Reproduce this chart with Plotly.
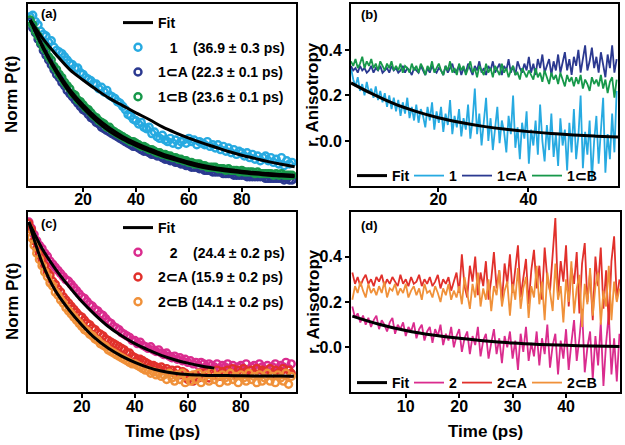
import plotly.graph_objects as go

# ---------------- Panel (a): Norm P(t) for 1, 1⊂A, 1⊂B ----------------
t_a = list(range(0, 100))
p_1 = [1.02, 1.03, 0.99, 0.97, 0.93, 0.91, 0.90, 0.86, 0.87, 0.83,
       0.81, 0.80, 0.79, 0.77, 0.75, 0.73, 0.72, 0.70, 0.70, 0.67,
       0.66, 0.64, 0.63, 0.62, 0.60, 0.60, 0.57, 0.58, 0.55, 0.56,
       0.53, 0.52, 0.51, 0.49, 0.48, 0.46, 0.44, 0.41, 0.40, 0.38,
       0.37, 0.35, 0.36, 0.33, 0.32, 0.33, 0.29, 0.30, 0.27, 0.26,
       0.28, 0.25, 0.24, 0.26, 0.23, 0.25, 0.22, 0.24, 0.25, 0.23,
       0.26, 0.24, 0.25, 0.22, 0.24, 0.23, 0.22, 0.24, 0.21, 0.22,
       0.20, 0.22, 0.19, 0.21, 0.18, 0.20, 0.17, 0.19, 0.16, 0.18,
       0.17, 0.15, 0.17, 0.14, 0.16, 0.13, 0.15, 0.12, 0.14, 0.15,
       0.12, 0.14, 0.11, 0.13, 0.10, 0.14, 0.09, 0.12, 0.10, 0.11]
p_1A = [0.99, 0.95, 0.92, 0.88, 0.85, 0.81, 0.78, 0.75, 0.72, 0.69,
        0.66, 0.64, 0.61, 0.59, 0.56, 0.54, 0.52, 0.50, 0.48, 0.46,
        0.44, 0.43, 0.41, 0.39, 0.38, 0.36, 0.35, 0.33, 0.32, 0.31,
        0.30, 0.29, 0.28, 0.27, 0.26, 0.25, 0.24, 0.23, 0.22, 0.21,
        0.21, 0.20, 0.19, 0.18, 0.18, 0.17, 0.16, 0.16, 0.15, 0.15,
        0.14, 0.13, 0.13, 0.12, 0.12, 0.11, 0.11, 0.10, 0.10, 0.09,
        0.09, 0.08, 0.08, 0.08, 0.07, 0.07, 0.06, 0.06, 0.06, 0.05,
        0.05, 0.05, 0.05, 0.04, 0.04, 0.04, 0.04, 0.03, 0.03, 0.03,
        0.03, 0.03, 0.02, 0.02, 0.02, 0.02, 0.02, 0.02, 0.02, 0.01,
        0.01, 0.01, 0.01, 0.01, 0.01, 0.01, 0.00, 0.01, 0.00, 0.00]
p_1B = [1.00, 0.97, 0.93, 0.90, 0.86, 0.83, 0.81, 0.77, 0.75, 0.71,
        0.69, 0.66, 0.64, 0.61, 0.59, 0.57, 0.54, 0.53, 0.50, 0.49,
        0.47, 0.45, 0.44, 0.42, 0.40, 0.39, 0.37, 0.36, 0.35, 0.33,
        0.33, 0.31, 0.30, 0.29, 0.28, 0.27, 0.26, 0.25, 0.24, 0.24,
        0.23, 0.22, 0.21, 0.21, 0.20, 0.19, 0.19, 0.18, 0.17, 0.17,
        0.16, 0.16, 0.15, 0.15, 0.14, 0.14, 0.13, 0.13, 0.12, 0.12,
        0.11, 0.11, 0.10, 0.10, 0.10, 0.09, 0.09, 0.08, 0.08, 0.08,
        0.08, 0.07, 0.07, 0.07, 0.06, 0.07, 0.06, 0.06, 0.06, 0.05,
        0.06, 0.05, 0.05, 0.05, 0.05, 0.04, 0.05, 0.04, 0.04, 0.04,
        0.04, 0.04, 0.03, 0.04, 0.03, 0.04, 0.03, 0.03, 0.03, 0.03]
fit_t_a = [0, 5, 10, 15, 20, 25, 30, 35, 40, 45, 50, 55, 60, 65, 70, 75, 80, 85, 90, 95, 100]
fit_1 = [1.0, 0.88, 0.78, 0.69, 0.625, 0.565, 0.51, 0.465, 0.42, 0.378, 0.332,
         0.295, 0.262, 0.232, 0.205, 0.178, 0.155, 0.135, 0.115, 0.098, 0.083]
fit_1A = [1.0, 0.82, 0.67, 0.545, 0.45, 0.37, 0.305, 0.255, 0.215, 0.18, 0.15,
          0.125, 0.10, 0.08, 0.065, 0.055, 0.045, 0.037, 0.03, 0.025, 0.02]
fit_1B = [1.0, 0.83, 0.685, 0.565, 0.47, 0.39, 0.325, 0.272, 0.23, 0.195, 0.163,
          0.137, 0.113, 0.093, 0.077, 0.065, 0.055, 0.047, 0.04, 0.035, 0.03]

# ---------------- Panel (b): anisotropy for 1, 1⊂A, 1⊂B ----------------
t_b = [0.6 + 0.5 * i for i in range(119)]
r_1 = [0.32, 0.27, 0.24, 0.28, 0.22, 0.25, 0.20, 0.26, 0.21, 0.23,
       0.19, 0.24, 0.18, 0.22, 0.17, 0.21, 0.15, 0.20, 0.14, 0.19,
       0.13, 0.18, 0.11, 0.17, 0.12, 0.19, 0.10, 0.15, 0.09, 0.16,
       0.08, 0.14, 0.11, 0.06, 0.15, 0.09, 0.17, 0.05, 0.13, 0.08,
       0.15, 0.04, 0.12, 0.07, 0.18, 0.03, 0.11, 0.06, 0.14, 0.02,
       0.10, 0.05, 0.16, 0.01, 0.09, 0.23, 0.03, 0.12, -0.02, 0.08,
       0.19, 0.00, 0.10, -0.04, 0.07, 0.15, -0.01, 0.09, 0.04, -0.05,
       0.11, 0.03, 0.20, -0.03, 0.06, -0.08, 0.08, 0.01, 0.13, -0.10,
       0.05, -0.02, 0.09, -0.06, 0.16, 0.00, -0.09, 0.07, -0.04, 0.12,
       -0.07, 0.03, -0.11, 0.10, -0.02, 0.05, -0.13, 0.08, -0.05, 0.14,
       -0.08, 0.02, 0.20, -0.12, 0.04, -0.06, 0.09, -0.17, 0.00, 0.11,
       -0.10, 0.06, 0.19, -0.14, 0.03, -0.08, 0.12, -0.05, 0.22]
r_1A = [0.33, 0.31, 0.32, 0.30, 0.33, 0.31, 0.32, 0.30, 0.31, 0.33,
        0.30, 0.32, 0.31, 0.33, 0.30, 0.31, 0.32, 0.30, 0.33, 0.31,
        0.32, 0.30, 0.31, 0.33, 0.30, 0.32, 0.31, 0.29, 0.32, 0.31,
        0.30, 0.33, 0.31, 0.29, 0.32, 0.30, 0.33, 0.31, 0.30, 0.32,
        0.31, 0.29, 0.33, 0.30, 0.32, 0.34, 0.30, 0.31, 0.33, 0.29,
        0.32, 0.30, 0.34, 0.31, 0.29, 0.33, 0.31, 0.35, 0.30, 0.32,
        0.29, 0.33, 0.31, 0.35, 0.30, 0.32, 0.34, 0.29, 0.33, 0.31,
        0.36, 0.30, 0.33, 0.29, 0.35, 0.32, 0.30, 0.34, 0.31, 0.37,
        0.30, 0.34, 0.29, 0.36, 0.32, 0.38, 0.30, 0.33, 0.36, 0.29,
        0.35, 0.31, 0.38, 0.30, 0.34, 0.39, 0.31, 0.36, 0.29, 0.37,
        0.33, 0.40, 0.30, 0.36, 0.42, 0.31, 0.35, 0.41, 0.32, 0.37,
        0.30, 0.39, 0.34, 0.28, 0.38, 0.32, 0.42, 0.30, 0.36]
r_1B = [0.35, 0.33, 0.36, 0.32, 0.34, 0.37, 0.32, 0.35, 0.33, 0.36,
        0.32, 0.34, 0.31, 0.35, 0.33, 0.31, 0.34, 0.32, 0.35, 0.31,
        0.33, 0.31, 0.34, 0.30, 0.33, 0.32, 0.30, 0.34, 0.31, 0.33,
        0.30, 0.34, 0.32, 0.29, 0.33, 0.31, 0.35, 0.30, 0.32, 0.34,
        0.31, 0.29, 0.33, 0.31, 0.35, 0.30, 0.32, 0.29, 0.34, 0.31,
        0.33, 0.29, 0.32, 0.35, 0.30, 0.32, 0.28, 0.33, 0.31, 0.29,
        0.34, 0.30, 0.32, 0.28, 0.33, 0.31, 0.29, 0.34, 0.30, 0.32,
        0.28, 0.31, 0.33, 0.29, 0.30, 0.27, 0.32, 0.30, 0.28, 0.31,
        0.29, 0.27, 0.32, 0.28, 0.30, 0.26, 0.31, 0.28, 0.25, 0.30,
        0.27, 0.29, 0.25, 0.30, 0.27, 0.24, 0.29, 0.26, 0.28, 0.24,
        0.28, 0.25, 0.29, 0.23, 0.27, 0.25, 0.22, 0.28, 0.25, 0.27,
        0.24, 0.29, 0.23, 0.27, 0.21, 0.26, 0.28, 0.19, 0.27]
fit_t_b = [0.6, 5, 10, 15, 20, 25, 30, 35, 40, 45, 50, 55, 60]
fit_r1 = [0.255, 0.21, 0.165, 0.13, 0.102, 0.081, 0.064, 0.051, 0.041, 0.033, 0.026, 0.021, 0.017]

# ---------------- Panel (c): Norm P(t) for 2, 2⊂A, 2⊂B ----------------
t_c = list(range(0, 100))
p_2 = [1.00, 0.96, 0.92, 0.88, 0.85, 0.83, 0.80, 0.78, 0.75, 0.73,
       0.71, 0.69, 0.67, 0.65, 0.63, 0.62, 0.60, 0.58, 0.56, 0.54,
       0.52, 0.51, 0.49, 0.47, 0.46, 0.44, 0.43, 0.41, 0.40, 0.38,
       0.36, 0.35, 0.33, 0.32, 0.31, 0.29, 0.28, 0.27, 0.26, 0.24,
       0.24, 0.22, 0.23, 0.21, 0.20, 0.19, 0.20, 0.18, 0.17, 0.18,
       0.16, 0.15, 0.16, 0.14, 0.13, 0.14, 0.12, 0.13, 0.11, 0.12,
       0.10, 0.11, 0.09, 0.10, 0.08, 0.10, 0.09, 0.07, 0.09, 0.08,
       0.07, 0.09, 0.06, 0.08, 0.07, 0.09, 0.06, 0.08, 0.05, 0.07,
       0.08, 0.06, 0.09, 0.05, 0.07, 0.08, 0.06, 0.09, 0.07, 0.05,
       0.08, 0.06, 0.07, 0.09, 0.05, 0.08, 0.07, 0.10, 0.06, 0.09]
p_2A = [0.99, 0.95, 0.88, 0.83, 0.79, 0.76, 0.72, 0.68, 0.66, 0.62,
        0.60, 0.57, 0.55, 0.52, 0.50, 0.48, 0.46, 0.44, 0.42, 0.40,
        0.39, 0.37, 0.35, 0.34, 0.32, 0.31, 0.29, 0.28, 0.27, 0.25,
        0.24, 0.23, 0.22, 0.21, 0.20, 0.19, 0.18, 0.16, 0.16, 0.14,
        0.13, 0.12, 0.12, 0.11, 0.10, 0.09, 0.08, 0.08, 0.07, 0.06,
        0.07, 0.05, 0.06, 0.04, 0.05, 0.03, 0.05, 0.02, 0.04, 0.03,
        -0.01, 0.01, -0.02, 0.02, 0.00, 0.03, 0.01, 0.04, 0.00, 0.03,
        0.02, 0.05, 0.01, 0.04, 0.02, 0.05, 0.03, 0.06, 0.02, 0.05,
        0.03, 0.06, 0.04, 0.02, 0.05, 0.03, 0.06, 0.02, 0.05, 0.04,
        0.03, 0.06, 0.02, 0.05, 0.03, 0.04, 0.06, 0.02, 0.05, 0.03]
p_2B = [0.96, 0.90, 0.85, 0.80, 0.76, 0.72, 0.68, 0.65, 0.61, 0.59,
        0.55, 0.53, 0.50, 0.48, 0.45, 0.43, 0.41, 0.39, 0.37, 0.35,
        0.33, 0.31, 0.30, 0.28, 0.27, 0.25, 0.24, 0.22, 0.21, 0.20,
        0.18, 0.17, 0.16, 0.15, 0.14, 0.13, 0.12, 0.11, 0.10, 0.09,
        0.09, 0.08, 0.07, 0.06, 0.05, 0.05, 0.03, 0.04, 0.02, 0.03,
        0.01, 0.02, -0.01, 0.03, 0.00, -0.02, 0.02, -0.01, 0.03, -0.03,
        0.01, -0.02, 0.02, -0.01, 0.03, -0.03, 0.00, 0.02, -0.02, 0.04,
        -0.01, 0.01, -0.03, 0.02, 0.00, -0.02, 0.03, -0.01, 0.01, -0.03,
        0.02, 0.00, -0.02, 0.03, -0.01, 0.01, -0.03, 0.02, -0.02, 0.00,
        0.03, -0.02, 0.01, -0.03, 0.02, 0.00, -0.02, 0.03, -0.04, 0.01]
fit_t_c2 = [0, 5, 10, 15, 20, 25, 30, 35, 40, 45, 50, 55, 60, 65, 70]
fit_2 = [1.0, 0.83, 0.70, 0.59, 0.49, 0.405, 0.33, 0.27, 0.22, 0.18, 0.145, 0.117, 0.095, 0.077, 0.063]
fit_t_c = [0, 5, 10, 15, 20, 25, 30, 35, 40, 45, 50, 55, 60, 65, 70, 75, 80, 85, 90, 95, 100]
fit_2B = [1.0, 0.74, 0.56, 0.44, 0.34, 0.255, 0.19, 0.14, 0.10, 0.068, 0.045,
          0.03, 0.022, 0.018, 0.016, 0.015, 0.014, 0.013, 0.012, 0.012, 0.011]

# ---------------- Panel (d): anisotropy for 2, 2⊂A, 2⊂B ----------------
t_d = [0.5 * i for i in range(101)]
r_2 = [0.18, 0.13, 0.15, 0.11, 0.14, 0.10, 0.13, 0.09, 0.12, 0.14,
       0.08, 0.12, 0.10, 0.07, 0.11, 0.13, 0.06, 0.10, 0.08, 0.11,
       0.05, 0.09, 0.07, 0.11, 0.04, 0.08, 0.10, 0.03, 0.07, 0.09,
       0.02, 0.08, 0.05, 0.10, 0.01, 0.06, 0.03, 0.09, 0.00, 0.05,
       0.08, -0.02, 0.04, 0.07, -0.03, 0.05, 0.01, 0.09, -0.04, 0.03,
       0.06, -0.05, 0.02, 0.08, -0.03, 0.04, -0.07, 0.05, 0.00, 0.07,
       -0.05, 0.03, -0.10, 0.06, -0.02, 0.09, -0.06, 0.02, -0.04, 0.07,
       -0.08, 0.04, -0.03, 0.10, -0.09, 0.01, 0.06, -0.12, 0.03, -0.05,
       0.08, -0.10, 0.02, 0.12, -0.06, 0.04, 0.17, -0.11, 0.00, 0.07,
       -0.14, 0.05, -0.08, 0.11, -0.17, 0.02, 0.15, -0.12, 0.04, -0.15,
       0.06]
r_2A = [0.33, 0.28, 0.31, 0.27, 0.30, 0.32, 0.28, 0.30, 0.27, 0.31,
        0.29, 0.32, 0.27, 0.30, 0.28, 0.31, 0.29, 0.27, 0.32, 0.28,
        0.30, 0.27, 0.31, 0.28, 0.29, 0.32, 0.27, 0.30, 0.28, 0.31,
        0.27, 0.29, 0.32, 0.26, 0.30, 0.28, 0.31, 0.25, 0.29, 0.33,
        0.24, 0.41, 0.27, 0.22, 0.36, 0.29, 0.40, 0.23, 0.33, 0.27,
        0.38, 0.21, 0.30, 0.42, 0.26, 0.34, 0.20, 0.37, 0.28, 0.41,
        0.24, 0.35, 0.45, 0.22, 0.31, 0.39, 0.19, 0.34, 0.43, 0.26,
        0.36, 0.21, 0.44, 0.30, 0.25, 0.40, 0.57, 0.22, 0.38, 0.29,
        0.45, 0.18, 0.35, 0.28, 0.42, 0.15, 0.37, 0.46, 0.20, 0.33,
        0.12, 0.40, 0.27, 0.44, 0.17, 0.34, 0.10, 0.38, 0.49, 0.21,
        0.30]
r_2B = [0.21, 0.27, 0.24, 0.29, 0.25, 0.22, 0.28, 0.24, 0.26, 0.23,
        0.27, 0.24, 0.29, 0.22, 0.26, 0.25, 0.28, 0.23, 0.26, 0.24,
        0.28, 0.22, 0.25, 0.27, 0.23, 0.26, 0.21, 0.28, 0.24, 0.25,
        0.22, 0.27, 0.24, 0.20, 0.26, 0.23, 0.28, 0.21, 0.25, 0.22,
        0.27, 0.19, 0.31, 0.24, 0.17, 0.28, 0.22, 0.33, 0.18, 0.26,
        0.21, 0.30, 0.16, 0.27, 0.23, 0.34, 0.18, 0.25, 0.29, 0.14,
        0.28, 0.21, 0.35, 0.17, 0.26, 0.31, 0.13, 0.27, 0.22, 0.36,
        0.19, 0.29, 0.12, 0.33, 0.24, 0.16, 0.37, 0.21, 0.27, 0.11,
        0.30, 0.20, 0.38, 0.15, 0.26, 0.32, 0.09, 0.28, 0.19, 0.35,
        0.14, 0.27, 0.33, 0.10, 0.25, 0.18, 0.36, 0.12, 0.29, 0.20,
        0.26]
fit_t_d = [0, 5, 10, 15, 20, 25, 30, 35, 40, 45, 50]
fit_r2 = [0.138, 0.102, 0.074, 0.054, 0.04, 0.028, 0.019, 0.013, 0.009, 0.006, 0.004]

# ---------------- labels ----------------
lab_a = ["Fit", "\u00a0\u00a0\u00a01\u00a0\u00a0\u00a0\u00a0(36.9 ± 0.3 ps)",
         "1⊂A (22.3 ± 0.1 ps)", "1⊂B (23.6 ± 0.1 ps)"]
lab_c = ["Fit", "\u00a0\u00a0\u00a02\u00a0\u00a0\u00a0\u00a0(24.4 ± 0.2 ps)",
         "2⊂A (15.9 ± 0.2 ps)", "2⊂B (14.1 ± 0.2 ps)"]
lab_b = ["Fit", "1", "1⊂A", "1⊂B"]
lab_d = ["Fit", "2", "2⊂A", "2⊂B"]

C_CYAN = "#27AAE1"
C_NAVY = "#2B3990"
C_GREEN = "#17984A"
C_MAG = "#DA2C8E"
C_RED = "#E1302B"
C_ORANGE = "#F0913A"
FONT = "Liberation Sans"

fig = go.Figure()

def sc(x, y, color, name, xa, ya, leg, rank, grp):
    return go.Scatter(x=x, y=y, mode="markers", name=name, xaxis=xa, yaxis=ya,
                      legend=leg, legendrank=rank, legendgroup=grp,
                      marker=dict(symbol="circle-open", size=7, color=color,
                                  line=dict(width=2.4, color=color)))

def ln(x, y, color, name, xa, ya, leg, rank, width=1.8, show=True, shape="linear", lw=None, grp=None):
    return go.Scatter(x=x, y=y, mode="lines", name=name, xaxis=xa, yaxis=ya,
                      legend=leg, legendrank=rank, showlegend=show, legendwidth=lw,
                      legendgroup=grp,
                      line=dict(color=color, width=width, shape=shape))

# (a)
fig.add_trace(sc(t_a, p_1, C_CYAN, lab_a[1], "x", "y", "legend", 2, "a1"))
fig.add_trace(sc(t_a, p_1A, C_NAVY, lab_a[2], "x", "y", "legend", 3, "a2"))
fig.add_trace(sc(t_a, p_1B, C_GREEN, lab_a[3], "x", "y", "legend", 4, "a3"))
fig.add_trace(ln(fit_t_a, fit_1, "black", lab_a[0], "x", "y", "legend", 1, 3, True, "spline", grp="a0"))
fig.add_trace(ln(fit_t_a, fit_1A, "black", lab_a[0], "x", "y", "legend", 1, 3, False, "spline", grp="a0"))
fig.add_trace(ln(fit_t_a, fit_1B, "black", lab_a[0], "x", "y", "legend", 1, 3, False, "spline", grp="a0"))

# (b)
fig.add_trace(ln(t_b, r_1, C_CYAN, lab_b[1], "x2", "y2", "legend2", 2, lw=3))
fig.add_trace(ln(t_b, r_1A, C_NAVY, lab_b[2], "x2", "y2", "legend2", 3, lw=25))
fig.add_trace(ln(t_b, r_1B, C_GREEN, lab_b[3], "x2", "y2", "legend2", 4, lw=30))
fig.add_trace(ln(fit_t_b, fit_r1, "black", lab_b[0], "x2", "y2", "legend2", 1, 3, True, "spline", lw=12))

# (c)
fig.add_trace(sc(t_c, p_2, C_MAG, lab_c[1], "x3", "y3", "legend3", 2, "c1"))
fig.add_trace(sc(t_c, p_2A, C_RED, lab_c[2], "x3", "y3", "legend3", 3, "c2"))
fig.add_trace(sc(t_c, p_2B, C_ORANGE, lab_c[3], "x3", "y3", "legend3", 4, "c3"))
fig.add_trace(ln(fit_t_c2, fit_2, "black", lab_c[0], "x3", "y3", "legend3", 1, 3, True, "spline", grp="c0"))
fig.add_trace(ln(fit_t_c, fit_2B, "black", lab_c[0], "x3", "y3", "legend3", 1, 3, False, "spline", grp="c0"))

# (d)
fig.add_trace(ln(t_d, r_2, C_MAG, lab_d[1], "x4", "y4", "legend4", 2, lw=3))
fig.add_trace(ln(t_d, r_2A, C_RED, lab_d[2], "x4", "y4", "legend4", 3, lw=25))
fig.add_trace(ln(t_d, r_2B, C_ORANGE, lab_d[3], "x4", "y4", "legend4", 4, lw=30))
fig.add_trace(ln(fit_t_d, fit_r2, "black", lab_d[0], "x4", "y4", "legend4", 1, 3, True, "spline", lw=12))

W, H = 625, 445
def dx(a, b):
    return [a / W, b / W]
def dy(top, bot):
    return [1 - bot / H, 1 - top / H]

tickfont = dict(family=FONT, size=16, color="black", weight="bold")
common = dict(showline=True, linecolor="black", linewidth=2, mirror=True,
              showgrid=False, zeroline=False, ticks="outside", ticklen=4,
              tickwidth=2, tickcolor="black", tickfont=tickfont)
noy = dict(showline=True, linecolor="black", linewidth=2, mirror=True,
           showgrid=False, zeroline=False, showticklabels=False, ticks="")

leg_font = dict(family=FONT, size=14, color="black", weight="bold")

fig.update_layout(
    width=W, height=H, margin=dict(l=0, r=0, t=0, b=0),
    paper_bgcolor="white", plot_bgcolor="white",
    font=dict(family=FONT, color="black"),
    xaxis=dict(domain=dx(28, 296), anchor="y", range=[-0.8, 100.5], tickvals=[20, 40, 60, 80],
               ticklabelstandoff=-6, **common),
    yaxis=dict(domain=dy(4, 186), anchor="x", range=[-0.0375, 1.1], **noy),
    xaxis2=dict(domain=dx(351, 618), anchor="y2", range=[0.6, 59.9], tickvals=[20, 40],
                ticklabelstandoff=-6, **common),
    yaxis2=dict(domain=dy(4, 186), anchor="x2", range=[-0.198, 0.602], tickvals=[0, 0.2, 0.4],
                tickformat=".1f", **common),
    xaxis3=dict(domain=dx(28, 296), anchor="y3", range=[-0.3, 100.8], tickvals=[20, 40, 60, 80],
                ticklabelstandoff=-5, **common),
    yaxis3=dict(domain=dy(212, 392), anchor="x3", range=[-0.09, 1.064], **noy),
    xaxis4=dict(domain=dx(351, 620), anchor="y4", range=[-0.25, 50.1], tickvals=[10, 20, 30, 40],
                ticklabelstandoff=-5, **common),
    yaxis4=dict(domain=dy(212, 392), anchor="x4", range=[-0.197, 0.597], tickvals=[0, 0.2, 0.4],
                tickformat=".1f", **common),
    legend=dict(x=118 / W, y=1 - 7 / H, xanchor="left", yanchor="top", bgcolor="rgba(0,0,0,0)",
                font=leg_font, tracegroupgap=3.5),
    legend2=dict(x=352 / W, y=1 - 176 / H, xanchor="left", yanchor="middle", orientation="h",
                 bgcolor="rgba(0,0,0,0)", font=leg_font),
    legend3=dict(x=118 / W, y=1 - 212 / H, xanchor="left", yanchor="top", bgcolor="rgba(0,0,0,0)",
                 font=leg_font, tracegroupgap=3.5),
    legend4=dict(x=352 / W, y=1 - 383 / H, xanchor="left", yanchor="middle", orientation="h",
                 bgcolor="rgba(0,0,0,0)", font=leg_font),
)

title_font = dict(family=FONT, size=17, color="black", weight="bold")
panel_font = dict(family=FONT, size=13, color="black", weight="bold")
ann = [
    dict(text="Norm P(t)", x=12 / W, y=1 - 95 / H, textangle=-90, font=title_font),
    dict(text="Norm P(t)", x=12 / W, y=1 - 302 / H, textangle=-90, font=title_font),
    dict(text="r, Anisotropy", x=313 / W, y=1 - 95 / H, textangle=-90, font=title_font),
    dict(text="r, Anisotropy", x=313 / W, y=1 - 302 / H, textangle=-90, font=title_font),
    dict(text="Time (ps)", x=162 / W, y=1 - 431 / H, font=title_font),
    dict(text="Time (ps)", x=485 / W, y=1 - 431 / H, font=title_font),
    dict(text="(a)", x=49 / W, y=1 - 13 / H, font=panel_font),
    dict(text="(b)", x=369 / W, y=1 - 15 / H, font=panel_font),
    dict(text="(c)", x=49 / W, y=1 - 223 / H, font=panel_font),
    dict(text="(d)", x=369 / W, y=1 - 225 / H, font=panel_font),
]
for a in ann:
    a.update(xref="paper", yref="paper", showarrow=False, xanchor="center", yanchor="middle")
fig.update_layout(annotations=ann)

fig.write_html("out.html", config={"displayModeBar": False},
               post_script="document.body.style.margin='0';")
